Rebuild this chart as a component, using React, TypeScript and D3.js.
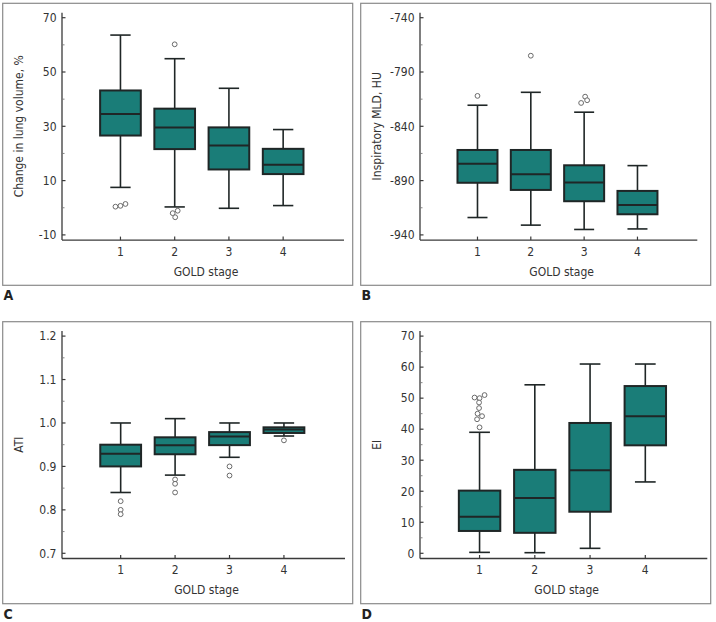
import React from "react";
import * as d3 from "d3";

// ---------- data ----------
const categories = ["1", "2", "3", "4"];
const xTitle = "GOLD stage";

// [lower whisker, Q1, median, Q3, upper whisker]
const lungVolumeBoxes: number[][] = [
  [7.5, 26.6, 34.5, 43.2, 63.6],
  [0.3, 21.6, 29.6, 36.5, 54.9],
  [-0.2, 14.1, 22.9, 29.6, 44.0],
  [0.8, 12.4, 15.8, 21.7, 28.8],
];
// [category index, value]
const lungVolumeOutliers: number[][] = [
  [0, 0.4], [0, 0.7], [0, 1.4],
  [1, 60.2], [1, -2.0], [1, -1.1], [1, -3.5],
];
const lungVolumeJitter = [-5, 0, 5, 0, -2, 3, 0.5];
const lungVolumeTicks = [-10, 10, 30, 50, 70];
const lungVolumeMinor = [0, 20, 40, 60];

const mldBoxes: number[][] = [
  [-924, -892, -874.4, -861.8, -820.6],
  [-931, -898.6, -884.1, -861.8, -808.7],
  [-935, -909, -891.8, -875.9, -827],
  [-934.5, -921, -912.4, -899.5, -876.2],
];
const mldOutliers: number[][] = [
  [0, -812], [1, -775], [2, -818.5], [2, -812.7], [2, -816],
];
const mldJitter = [0, 0, -3, 1, 3];
const mldTicks = [-940, -890, -840, -790, -740];
const mldMinor = [-915, -865, -815, -765];

const atiBoxes: number[][] = [
  [0.84, 0.9, 0.929, 0.95, 1.0],
  [0.88, 0.928, 0.949, 0.967, 1.01],
  [0.921, 0.949, 0.969, 0.979, 1.0],
  [0.97, 0.977, 0.985, 0.99, 1.0],
];
const atiOutliers: number[][] = [
  [0, 0.82], [0, 0.8], [0, 0.79],
  [1, 0.87], [1, 0.86], [1, 0.84],
  [2, 0.9], [2, 0.879],
  [3, 0.96],
];
const atiJitter = [0, 0, 0, 0, 0, 0, 0, 0, 0];
const atiTicks = [0.7, 0.8, 0.9, 1.0, 1.1, 1.2];
const atiMinor = [0.75, 0.85, 0.95, 1.05, 1.15];

const eiBoxes: number[][] = [
  [0.3, 7.2, 11.8, 20.2, 39.0],
  [0.2, 6.6, 17.8, 26.9, 54.3],
  [1.6, 13.4, 26.8, 42.0, 61.0],
  [23.0, 34.8, 44.2, 53.9, 61.0],
];
const eiOutliers: number[][] = [
  [0, 50.2], [0, 50.0], [0, 51.0], [0, 48.6], [0, 46.8],
  [0, 45.0], [0, 44.2], [0, 43.2], [0, 40.6],
];
const eiJitter = [-5, 0, 5, -0.5, -0.5, -2, 2.5, -2.5, 0];
const eiTicks = [0, 10, 20, 30, 40, 50, 60, 70];
const eiMinor = [5, 15, 25, 35, 45, 55, 65];

// ---------- styling ----------
const FONT = "'DejaVu Sans Condensed', 'DejaVu Sans', sans-serif";
const TEXT = "#333";
const AXIS = "#3a3a3a";
const BOX_FILL = "#1a7d78";
const BOX_STROKE = "#1f2626";

type PanelProps = {
  x: number;
  y: number;
  letter: string;
  yTitle: string;
  boxes: number[][];
  outliers: number[][];
  jitter: number[];
  ticks: number[];
  minor: number[];
  fmt: (v: number) => string;
  axisEnd: number;
};

function Panel(p: PanelProps) {
  const W = 350;
  const H = 282;
  const axisX = 59.3;
  const axisY = 236.8;
  const topY = 14.4;
  const botY = 231.6;

  const y = d3
    .scaleLinear()
    .domain([p.ticks[0], p.ticks[p.ticks.length - 1]])
    .range([botY, topY]);
  const x = d3
    .scalePoint<string>()
    .domain(categories)
    .range([axisX, p.axisEnd])
    .padding(1.1)
    .align(0.49);
  const step = x.step();
  const boxW = step * 0.75;
  const capW = boxW * 0.5;

  return (
    <g>
      <rect
        x={p.x}
        y={p.y}
        width={W}
        height={H}
        fill="none"
        stroke="#8a8a8a"
        strokeWidth={1.2}
      />
      <text
        x={p.x + 0.8}
        y={p.y + H + 15}
        fontFamily={FONT}
        fontWeight="bold"
        fontSize={14}
        fill="#222"
      >
        {p.letter}
      </text>
      <g transform={`translate(${p.x},${p.y})`}>
        {/* y axis */}
        <line x1={axisX} x2={axisX} y1={topY - 5} y2={axisY} stroke={AXIS} strokeWidth={1.3} />
        {p.ticks.map((t) => (
          <g key={"t" + t}>
            <line x1={axisX} x2={axisX + 3.5} y1={y(t)} y2={y(t)} stroke={AXIS} strokeWidth={1.2} />
            <text
              x={axisX - 5.5}
              y={y(t)}
              dy="0.36em"
              textAnchor="end"
              fontFamily={FONT}
              fontSize={12}
              fill={TEXT}
            >
              {p.fmt(t)}
            </text>
          </g>
        ))}
        {p.minor.map((t) => (
          <line key={"m" + t} x1={axisX} x2={axisX + 2.5} y1={y(t)} y2={y(t)} stroke="#777" strokeWidth={0.9} />
        ))}
        {/* x axis */}
        <line x1={axisX} x2={p.axisEnd} y1={axisY} y2={axisY} stroke={AXIS} strokeWidth={1.3} />
        {categories.map((c) => (
          <g key={"x" + c}>
            <line x1={x(c)} x2={x(c)} y1={axisY} y2={axisY - 3.5} stroke={AXIS} strokeWidth={1.2} />
            <text
              x={x(c)}
              y={axisY + 16}
              textAnchor="middle"
              fontFamily={FONT}
              fontSize={12}
              fill={TEXT}
            >
              {c}
            </text>
          </g>
        ))}
        <text
          x={(axisX + p.axisEnd) / 2 + 3}
          y={axisY + 36}
          textAnchor="middle"
          fontFamily={FONT}
          fontSize={12}
          fill={TEXT}
        >
          {xTitle}
        </text>
        <text
          transform={`translate(${15.5},${(topY + botY) / 2}) rotate(-90)`}
          dy="0.36em"
          textAnchor="middle"
          fontFamily={FONT}
          fontSize={12}
          fill={TEXT}
        >
          {p.yTitle}
        </text>
        {/* boxes */}
        {p.boxes.map((b, i) => {
          const cx = x(categories[i]) as number;
          const [lo, q1, med, q3, hi] = b;
          return (
            <g key={"b" + i}>
              <line x1={cx} x2={cx} y1={y(hi)} y2={y(q3)} stroke={BOX_STROKE} strokeWidth={1.6} />
              <line x1={cx} x2={cx} y1={y(q1)} y2={y(lo)} stroke={BOX_STROKE} strokeWidth={1.6} />
              <line x1={cx - capW / 2} x2={cx + capW / 2} y1={y(hi)} y2={y(hi)} stroke={BOX_STROKE} strokeWidth={1.6} />
              <line x1={cx - capW / 2} x2={cx + capW / 2} y1={y(lo)} y2={y(lo)} stroke={BOX_STROKE} strokeWidth={1.6} />
              <rect
                x={cx - boxW / 2}
                y={y(q3)}
                width={boxW}
                height={y(q1) - y(q3)}
                fill={BOX_FILL}
                stroke={BOX_STROKE}
                strokeWidth={2}
              />
              <line x1={cx - boxW / 2} x2={cx + boxW / 2} y1={y(med)} y2={y(med)} stroke={BOX_STROKE} strokeWidth={2} />
            </g>
          );
        })}
        {p.outliers.map((o, i) => {
          const cx = (x(categories[o[0]]) as number) + (p.jitter[i] ?? 0);
          return (
            <circle key={"o" + i} cx={cx} cy={y(o[1])} r={2.4} fill="#fff" stroke="#6a6a6a" strokeWidth={1} />
          );
        })}
      </g>
    </g>
  );
}

export default function App() {
  return (
    <svg
      width={716}
      height={622}
      style={{ position: "absolute", left: 0, top: 0, background: "#fff" }}
    >
      <rect width={716} height={622} fill="#fff" />
      <Panel
        x={2.7}
        y={3.3}
        letter="A"
        yTitle="Change in lung volume, %"
        boxes={lungVolumeBoxes}
        outliers={lungVolumeOutliers}
        jitter={lungVolumeJitter}
        ticks={lungVolumeTicks}
        minor={lungVolumeMinor}
        fmt={(v) => String(v)}
        axisEnd={341.3}
      />
      <Panel
        x={360.7}
        y={3.3}
        letter="B"
        yTitle="Inspiratory MLD, HU"
        boxes={mldBoxes}
        outliers={mldOutliers}
        jitter={mldJitter}
        ticks={mldTicks}
        minor={mldMinor}
        fmt={(v) => String(v)}
        axisEnd={336.6}
      />
      <Panel
        x={2.7}
        y={321.7}
        letter="C"
        yTitle="ATI"
        boxes={atiBoxes}
        outliers={atiOutliers}
        jitter={atiJitter}
        ticks={atiTicks}
        minor={atiMinor}
        fmt={(v) => v.toFixed(1)}
        axisEnd={342.3}
      />
      <Panel
        x={360.7}
        y={321.7}
        letter="D"
        yTitle="EI"
        boxes={eiBoxes}
        outliers={eiOutliers}
        jitter={eiJitter}
        ticks={eiTicks}
        minor={eiMinor}
        fmt={(v) => String(v)}
        axisEnd={346.6}
      />
    </svg>
  );
}
